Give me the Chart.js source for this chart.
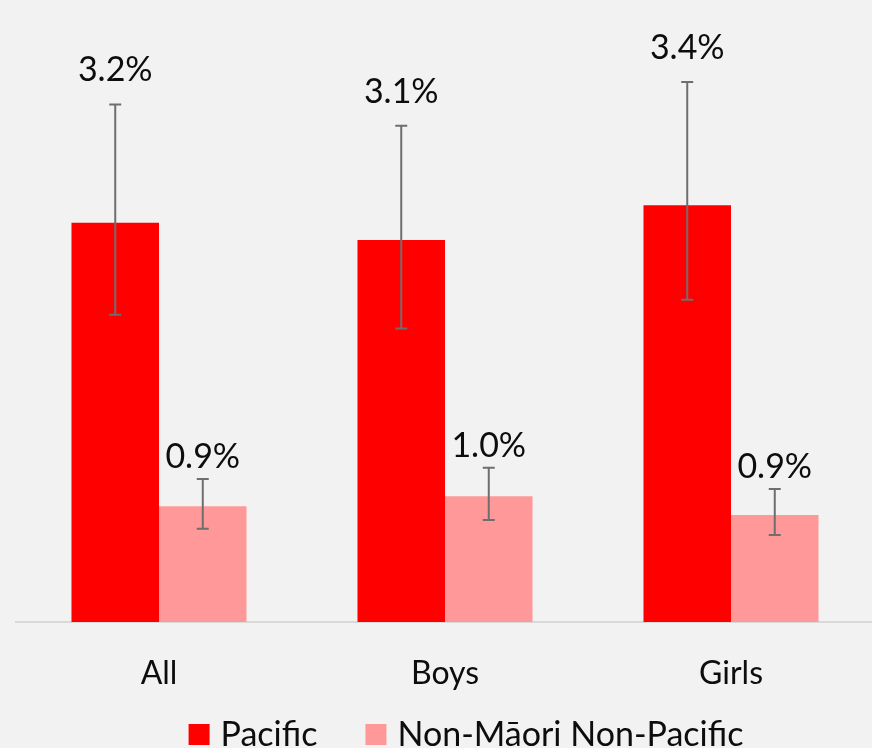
<!DOCTYPE html>
<html>
<head>
<meta charset="utf-8">
<script src="https://cdn.jsdelivr.net/npm/chart.js@4"></script>
<style>
  html, body { margin: 0; padding: 0; background: #f2f2f2; overflow: hidden; }
  #wrap { width: 874px; height: 748px; position: relative; }
</style>
</head>
<body>
<div id="wrap"><canvas id="c"></canvas></div>
<script>
// ---- data ----
const categories = ['All', 'Boys', 'Girls'];
const seriesNames = ['Pacific', 'Non-Māori Non-Pacific'];
const pacificValues = [3.21, 3.07, 3.35];
const pacificLower = [2.47, 2.36, 2.59];
const pacificUpper = [4.16, 3.99, 4.34];
const pacificLabels = ['3.2%', '3.1%', '3.4%'];
const nonMaoriValues = [0.93, 1.01, 0.86];
const nonMaoriLower = [0.75, 0.82, 0.70];
const nonMaoriUpper = [1.15, 1.24, 1.07];
const nonMaoriLabels = ['0.9%', '1.0%', '0.9%'];

const FONT = 'Lato, "Open Sans", sans-serif';

const errorBarsPlugin = {
  id: 'errorBars',
  afterDatasetsDraw(chart) {
    const ctx = chart.ctx;
    const y = chart.scales.y;
    chart.data.datasets.forEach((ds, di) => {
      const meta = chart.getDatasetMeta(di);
      meta.data.forEach((bar, i) => {
        const x = bar.x;
        const yHi = y.getPixelForValue(ds.errUpper[i]);
        const yLo = y.getPixelForValue(ds.errLower[i]);
        ctx.save();
        ctx.strokeStyle = '#6e6e6e';
        ctx.lineWidth = 2;
        ctx.beginPath();
        ctx.moveTo(x, yHi); ctx.lineTo(x, yLo);
        ctx.moveTo(x - 6, yHi); ctx.lineTo(x + 6, yHi);
        ctx.moveTo(x - 6, yLo); ctx.lineTo(x + 6, yLo);
        ctx.stroke();
        // value label
        ctx.fillStyle = '#0d0d0d';
        ctx.font = '34px ' + FONT;
        ctx.textAlign = 'center';
        ctx.textBaseline = 'alphabetic';
        ctx.fillText(ds.valueLabels[i], x, yHi - ds.labelGap);
        ctx.restore();
      });
    });
  }
};

const customLegend = {
  id: 'customLegend',
  afterDraw(chart) {
    const ctx = chart.ctx;
    ctx.save();
    ctx.font = '34px ' + FONT;
    ctx.textBaseline = 'alphabetic';
    ctx.textAlign = 'left';
    const box = 21, gapText = 11, gapItem = 48;
    const items = chart.data.datasets.map(ds => ({ text: ds.label, color: ds.backgroundColor, w: ctx.measureText(ds.label).width }));
    let total = 0;
    items.forEach((it, k) => { total += box + gapText + it.w + (k ? gapItem : 0); });
    let x = 466 - total / 2;
    items.forEach(it => {
      ctx.fillStyle = it.color;
      ctx.fillRect(x, 724, box, box);
      ctx.fillStyle = '#0d0d0d';
      ctx.fillText(it.text, x + box + gapText, 746);
      x += box + gapText + it.w + gapItem;
    });
    ctx.restore();
  }
};

new Chart(document.getElementById('c'), {
  type: 'bar',
  data: {
    labels: categories,
    datasets: [
      { label: seriesNames[0], data: pacificValues, backgroundColor: '#ff0000',
        errLower: pacificLower, errUpper: pacificUpper, valueLabels: pacificLabels, labelGap: 23 },
      { label: seriesNames[1], data: nonMaoriValues, backgroundColor: '#ff9999',
        errLower: nonMaoriLower, errUpper: nonMaoriUpper, valueLabels: nonMaoriLabels, labelGap: 11 }
    ]
  },
  options: {
    responsive: true,
    maintainAspectRatio: false,
    animation: false,
    events: [],
    layout: { padding: { left: 16, right: 0, top: 0, bottom: 0 } },
    datasets: { bar: { categoryPercentage: 0.612, barPercentage: 1.0 } },
    plugins: { legend: { display: false }, tooltip: { enabled: false } },
    scales: {
      x: {
        grid: { display: false },
        border: { display: true, color: '#d9d9d9', width: 2 },
        ticks: { color: '#0d0d0d', font: { family: FONT, size: 32 }, padding: 24 },
        afterFit(s) { s.height = 126; }
      },
      y: { display: false, min: 0, max: 5 }
    }
  },
  plugins: [errorBarsPlugin, customLegend]
});
</script>
</body>
</html>
